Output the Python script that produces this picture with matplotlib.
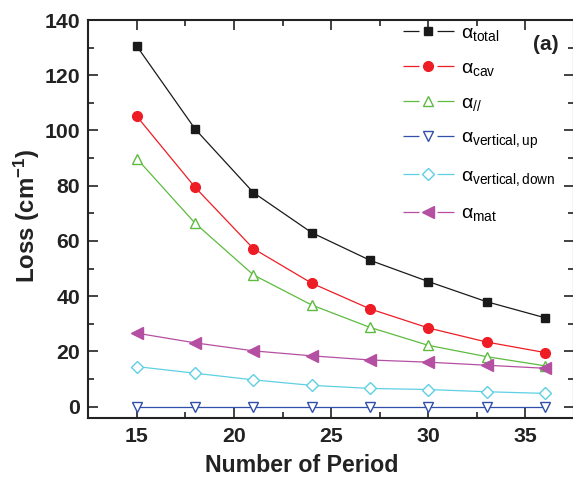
import matplotlib
matplotlib.use("Agg")
import matplotlib.pyplot as plt
from matplotlib.lines import Line2D
from matplotlib.ticker import MultipleLocator

plt.rcParams['font.family'] = ['Liberation Sans', 'DejaVu Sans']
plt.rcParams['mathtext.fontset'] = 'custom'
plt.rcParams['mathtext.rm'] = 'Liberation Sans'
plt.rcParams['mathtext.it'] = 'Liberation Sans'
plt.rcParams['mathtext.bf'] = 'Liberation Sans:bold'
plt.rcParams['lines.scale_dashes'] = False

periods = [15, 18, 21, 24, 27, 30, 33, 36]
alpha_total = [130.5, 100.5, 77.5, 63.0, 53.0, 45.3, 38.0, 32.2]
alpha_cav = [105.1, 79.4, 57.2, 44.7, 35.4, 28.5, 23.4, 19.6]
alpha_par = [89.8, 66.4, 47.7, 36.8, 28.7, 22.2, 18.1, 14.8]
alpha_vup = [0.0, 0.0, 0.0, 0.0, 0.0, 0.0, 0.0, 0.0]
alpha_vdown = [14.5, 12.1, 9.7, 7.7, 6.6, 6.2, 5.4, 4.8]
alpha_mat = [26.6, 23.1, 20.2, 18.4, 16.9, 16.1, 15.0, 13.9]

labels = [r'$\alpha_{\mathrm{total}}$', r'$\alpha_{\mathrm{cav}}$', r'$\alpha_{//}$',
          r'$\alpha_{\mathrm{vertical,up}}$', r'$\alpha_{\mathrm{vertical,down}}$',
          r'$\alpha_{\mathrm{mat}}$']

fig = plt.figure(figsize=(5.73, 4.79), dpi=100)
W, H = 573, 479
ax = fig.add_axes([88.3 / W, 1 - 417.7 / H, (574 - 88.3) / W, (417.7 - 20) / H])

series = [
    (alpha_total, '#1a1a1a', 's', '#1a1a1a', 6),
    (alpha_cav, '#ee1c24', 'o', '#ee1c24', 7),
    (alpha_par, '#5dbb3f', '^', 'white', 7.5),
    (alpha_vup, '#2f4fa8', 'v', 'white', 7.5),
    (alpha_vdown, '#5fd0e3', 'D', 'white', 6),
    (alpha_mat, '#b54fa2', '<', '#b54fa2', 8),
]
handles = []
for (vals, col, mk, fc, ms), lab in zip(series, labels):
    ax.plot(periods, vals, color=col, lw=0.9, marker=mk, ms=ms,
            mfc=fc, mec=col, mew=1.0)
    # legend key: line broken around the marker
    handles.append(Line2D([], [], color=col, lw=0.9, marker=mk, ms=ms,
                          mfc=fc, mec=col, mew=1.0,
                          linestyle=(0, (11.5, 13.0, 12.5, 5.0)), label=lab))

ax.set_xlim(12.5, 37.5)
ax.set_ylim(-4, 140)
ax.xaxis.set_major_locator(MultipleLocator(5))
ax.xaxis.set_minor_locator(MultipleLocator(2.5))
ax.yaxis.set_major_locator(MultipleLocator(20))
ax.yaxis.set_minor_locator(MultipleLocator(10))
ax.tick_params(which='both', direction='in', top=True, right=True,
               width=1.2, color='#222222')
ax.tick_params(which='major', length=7, labelsize=15.3)
ax.tick_params(axis='x', which='major', pad=7)
ax.tick_params(axis='y', which='major', pad=6)
ax.tick_params(which='minor', length=4)
for t in ax.get_xticklabels() + ax.get_yticklabels():
    t.set_fontweight('bold')
    t.set_color('#222222')
for s in ax.spines.values():
    s.set_linewidth(1.5)
    s.set_color('#222222')

ax.set_xlabel('Number of Period', fontsize=16.7, fontweight='bold', color='#222222')
ax.set_ylabel(r'Loss (cm$^{\mathbf{-1}}$)', fontsize=17.3, fontweight='bold', color='#222222')
ax.xaxis.label.set_va('center')
ax.xaxis.set_label_coords(302 / W, 1 - 465 / H, transform=fig.transFigure)
ax.yaxis.label.set_va('center')
ax.yaxis.set_label_coords(27 / W, 1 - 216 / H, transform=fig.transFigure)

leg = ax.legend(handles=handles, loc='upper left', bbox_to_anchor=(403 / W, 1 - 24 / H),
                bbox_transform=fig.transFigure, frameon=False, fontsize=14,
                handlelength=2.6, handletextpad=0.36, labelspacing=0.85,
                borderpad=0, borderaxespad=0, numpoints=1)

fig.text(546 / W, 1 - 44 / H, '(a)', fontsize=15, fontweight='bold',
         ha='center', va='center', color='#222222')

fig.savefig('out.png', dpi=100)
